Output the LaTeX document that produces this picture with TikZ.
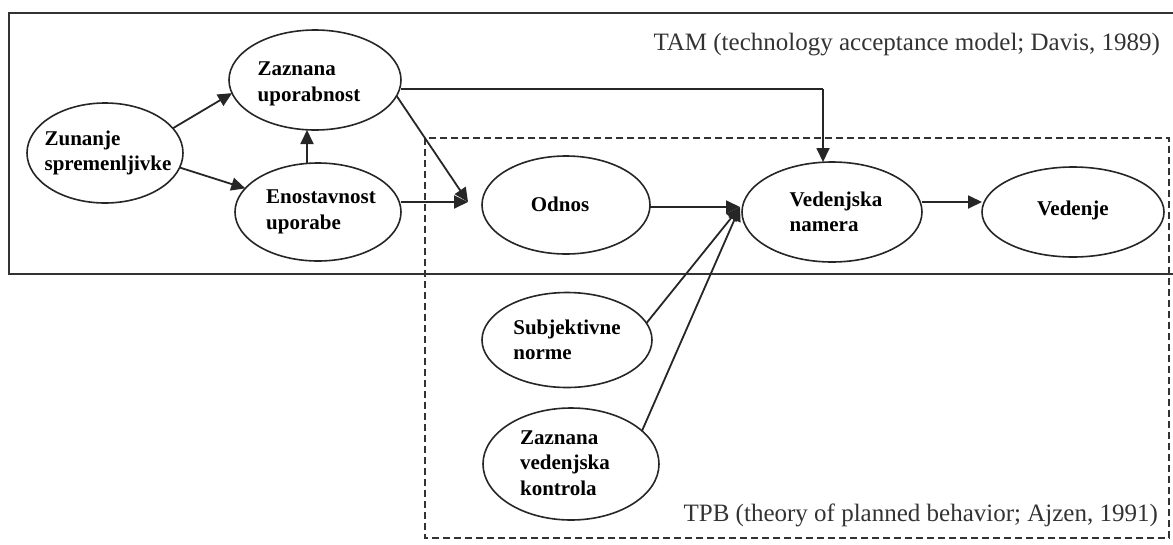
\documentclass[tikz,border=0pt]{standalone}
\usepackage{fontspec}
\setmainfont{Liberation Serif}
\usetikzlibrary{arrows.meta,shapes.geometric}

\tikzset{
  construct/.style={draw=black!85, line width=1.6pt, ellipse, inner sep=0pt, outer sep=0pt},
  ctext/.style={align=left, inner sep=0pt, font=\fontsize{21}{25.5}\bfseries\selectfont},
  link/.style={line width=1.8pt, black!85, -{Triangle[length=14pt,width=13pt]}},
  plain/.style={line width=1.8pt, black!85},
  framelabel/.style={inner sep=0pt, font=\fontsize{25}{30}\selectfont, text=black!80},
  tamframe/.style={line width=2pt, black!80},
  tpbframe/.style={line width=1.5pt, black!80, dash pattern=on 7pt off 4pt}
}

\begin{document}
\begin{tikzpicture}[x=1pt, y=-1pt]
  \useasboundingbox[fill=white] (0,0) rectangle (1173,544);

  % model frames
  \draw[tamframe] (1173,13) -- (9,13) -- (9,274) -- (1173,274);
  \draw[tpbframe] (425,138) rectangle (1169,538);

  \node[framelabel, anchor=east] (tam) at (1160,45) {TAM (technology acceptance model; Davis, 1989)};
  \node[framelabel, anchor=east] (tpb) at (1158,515) {TPB (theory of planned behavior; Ajzen, 1991)};

  % constructs
  \node[construct, minimum width=156pt, minimum height=100pt] (zun) at (105,153) {};
  \node[construct, minimum width=172pt, minimum height=100pt] (zup) at (315,80) {};
  \node[construct, minimum width=166pt, minimum height=98pt]  (eno) at (318,212) {};
  \node[construct, minimum width=168pt, minimum height=98pt]  (odn) at (566,205) {};
  \node[construct, minimum width=180pt, minimum height=100pt] (ven) at (832,212) {};
  \node[construct, minimum width=182pt, minimum height=90pt]  (ved) at (1073,212) {};
  \node[construct, minimum width=170pt, minimum height=95pt]  (sub) at (567,340) {};
  \node[construct, minimum width=176pt, minimum height=112pt] (kon) at (571,464) {};

  \node[ctext] (zunT) at (108,153) {Zunanje\\spremenljivke};
  \node[ctext] (zupT) at (309,84)  {Zaznana\\uporabnost};
  \node[ctext] (enoT) at (321,212) {Enostavnost\\uporabe};
  \node[ctext] (odnT) at (560,204) {Odnos};
  \node[ctext] (venT) at (836,212) {Vedenjska\\namera};
  \node[ctext] (vedT) at (1073,210) {Vedenje};
  \node[ctext] (subT) at (567,340) {Subjektivne\\norme};
  \node[ctext] (konT) at (565,463) {Zaznana\\vedenjska\\kontrola};

  % arrow ends that stop short of their ellipses
  \coordinate (odnin) at (468,202);
  \coordinate (venin) at (740,207);
  \coordinate (bend) at (823,89);

  % TAM paths
  \draw[link] (zun.20) -- (zup.189);
  \draw[link] (zun.-11) -- (eno.162);
  \draw[link] (eno.north -| 307,0) -- (zup.south -| 307,0);
  \draw[link] (zup.-11) -- (odnin);
  \draw[link] (eno.east |- odnin) -- (odnin);
  \draw[plain] (zup.east |- bend) -- (bend);
  \draw[link] (bend) -- (ven.north -| bend);

  % TPB paths
  \draw[link] (odn.east |- venin) -- (venin);
  \draw[link] (sub.12) -- (venin);
  \draw[link] (kon.25) -- (venin);
  \draw[link] (ven.east |- 0,202) -- (ved.west |- 0,202);
\end{tikzpicture}
\end{document}
